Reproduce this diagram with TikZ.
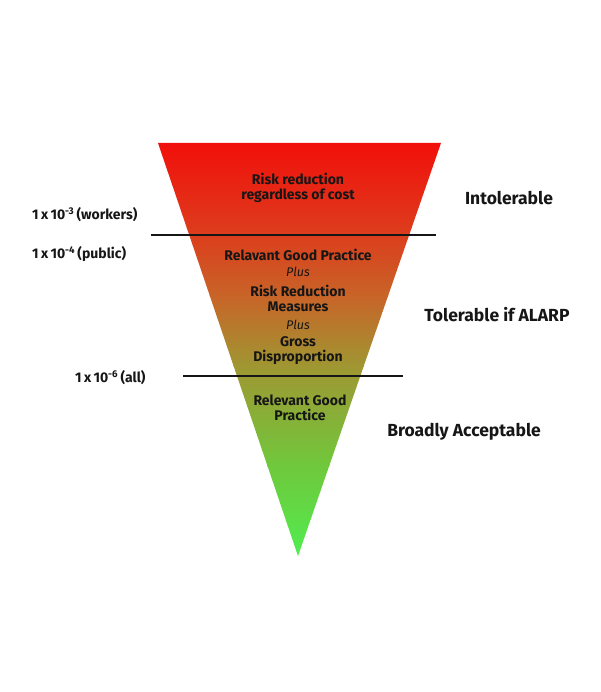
\documentclass[tikz,border=0pt]{standalone}
\usepackage{fontspec}
\setmainfont{Fira Sans}
\definecolor{c0}{RGB}{242,14,10}
\definecolor{c1}{RGB}{222,58,28}
\definecolor{c2}{RGB}{200,100,40}
\definecolor{c3}{RGB}{160,150,50}
\definecolor{c4}{RGB}{112,200,60}
\definecolor{c5}{RGB}{80,238,80}
\definecolor{ink}{RGB}{22,22,22}
\begin{document}
\begin{tikzpicture}[x=1pt,y=-1pt,
  lbl/.style={font=\bfseries\fontsize{14}{15}\selectfont, align=center, text=ink, inner sep=0pt},
  plus/.style={font=\itshape\fontsize{12.5}{13}\selectfont, text=ink, inner sep=0pt},
  zone/.style={font=\bfseries\fontsize{17.5}{18}\selectfont, text=ink, inner sep=0pt},
  lev/.style={font=\bfseries\fontsize{14}{15}\selectfont, text=ink, anchor=west, inner sep=0pt},
  sep/.style={line width=1.6pt, draw=ink}]
\useasboundingbox (0,0) rectangle (600,692);
\coordinate (tl) at (158,143);
\coordinate (tr) at (441,143);
\coordinate (ap) at (298,556);
\begin{scope}
  \clip (tl) -- (tr) -- (ap) -- cycle;
  \shade[top color=c0,bottom color=c1] (150,140) rectangle (450,229);
  \shade[top color=c1,bottom color=c2] (150,228.5) rectangle (450,296);
  \shade[top color=c2,bottom color=c3] (150,295.5) rectangle (450,366);
  \shade[top color=c3,bottom color=c4] (150,365.5) rectangle (450,466);
  \shade[top color=c4,bottom color=c5] (150,465.5) rectangle (450,560);
\end{scope}
\coordinate (l1a) at (151,235);
\coordinate (l1b) at (436,235);
\coordinate (l2a) at (183,376);
\coordinate (l2b) at (403,376);
\draw[sep] (l1a) -- (l1b);
\draw[sep] (l2a) -- (l2b);
\node[lbl] (top) at (298,188) {Risk reduction\\regardless of cost};
\node[lbl] (rgp) at (298,255) {Relavant Good Practice};
\node[plus] (p1) at (298,272) {Plus};
\node[lbl] (rrm) at (298,298) {Risk Reduction\\Measures};
\node[plus] (p2) at (298,325) {Plus};
\node[lbl] (gd) at (298,351) {Gross\\Disproportion};
\node[lbl] (rgp2) at (300,408) {Relevant Good\\Practice};
\node[zone] (intol) at (509,198) {Intolerable};
\node[zone] (tol) at (497,315) {Tolerable if ALARP};
\node[zone] (broad) at (464,432) {Broadly Acceptable};
\node[lev] (w) at (32,215) {1\,x\,10\textsuperscript{-3}\,(workers)};
\node[lev] (pub) at (32,254) {1\,x\,10\textsuperscript{-4}\,(public)};
\node[lev] (all) at (75,378) {1\,x\,10\textsuperscript{-6}\,(all)};
\end{tikzpicture}
\end{document}
